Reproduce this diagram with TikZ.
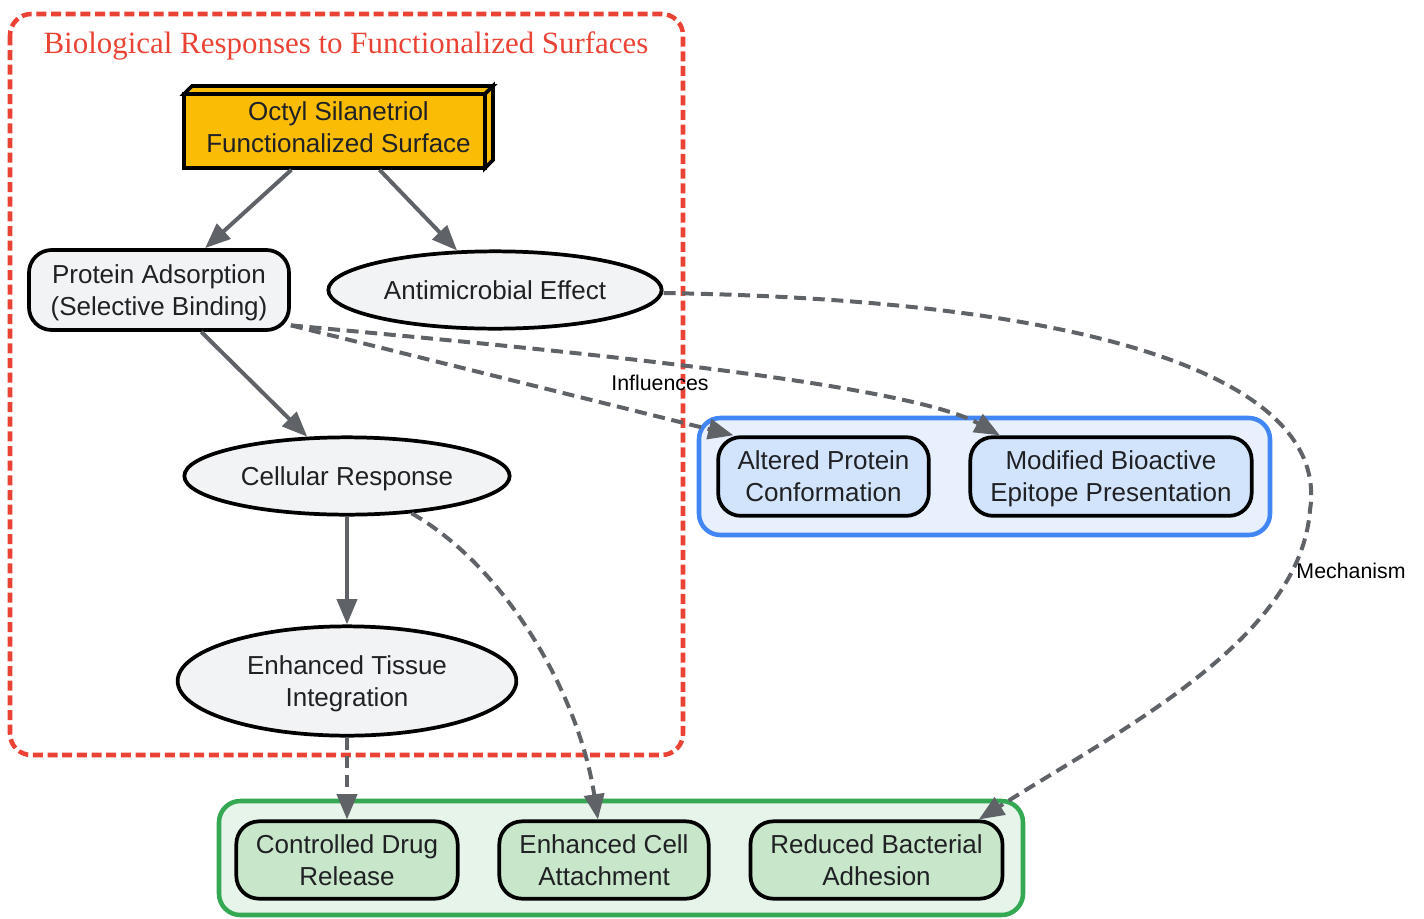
\documentclass[tikz,border=0pt]{standalone}
\usepackage{fontspec}
\setmainfont{Liberation Sans}
\newfontfamily\titlefont{Liberation Serif}
\usetikzlibrary{arrows.meta,shapes.geometric,calc}
\definecolor{cred}{HTML}{EA4335}
\definecolor{cblue}{HTML}{4285F4}
\definecolor{cgreen}{HTML}{34A853}
\definecolor{amber}{HTML}{FBBC05}
\definecolor{edgegrey}{HTML}{5F6368}
\definecolor{nodegrey}{HTML}{F1F3F4}
\definecolor{bluefill}{HTML}{E8F0FE}
\definecolor{bluenode}{HTML}{D2E3FC}
\definecolor{greenfill}{HTML}{E6F4EA}
\definecolor{greennode}{HTML}{C8E6C9}
\definecolor{txt}{HTML}{202124}
\tikzset{
 base/.style={draw=black, line width=2.8pt, text=txt, font=\fontsize{19.5}{24}\selectfont, align=center, inner sep=0pt, text depth=0pt},
 rbox/.style={base, rectangle, rounded corners=17pt},
 ell/.style={base, ellipse, fill=nodegrey},
 flow/.style={draw=edgegrey, line width=3pt, -{Triangle[length=19pt,width=15pt]}},
 dflow/.style={flow, dash pattern=on 9pt off 5pt},
 elabel/.style={font=\fontsize{16}{19}\selectfont, text=black, inner sep=1pt},
 cluster/.style={line width=3.4pt, rounded corners=16pt},
 face/.style={draw=black, line width=2.8pt, fill=amber, line join=miter},
}
\begin{document}
\begin{tikzpicture}[x=0.75pt,y=-0.75pt]
\useasboundingbox (0,0) rectangle (1424,918);
% clusters
\draw[cluster, draw=cred, dash pattern=on 7.5pt off 3.5pt] (10,14) rectangle (683,755);
\node[text=cred, font=\titlefont\fontsize{23.2}{27}\selectfont, inner sep=0pt] (title) at (346,45.5) {Biological Responses to Functionalized Surfaces};
\draw[cluster, draw=cblue, fill=bluefill] (699,418) rectangle (1270,535);
\draw[cluster, draw=cgreen, fill=greenfill] (219,801) rectangle (1023,915);
% 3D box faces of the surface node
\draw[face] (184,94) rectangle (485,168);
\draw[face] (184,94) -- (192,86) -- (493,86) -- (485,94) -- cycle;
\draw[face] (485,94) -- (493,86) -- (493,160) -- (485,168) -- cycle;
% nodes
\node[base, draw=none, rectangle, minimum width=231.75pt, minimum height=61.5pt] (octyl) at (338.5,127) {Octyl Silanetriol\\Functionalized Surface};
\node[rbox, fill=nodegrey, minimum width=195pt, minimum height=60pt] (protein) at (159,290) {Protein Adsorption\\(Selective Binding)};
\node[ell, minimum width=250pt, minimum height=58pt] (anti) at (495,290) {Antimicrobial Effect};
\node[ell, minimum width=244pt, minimum height=58pt] (cell) at (347,476) {Cellular Response};
\node[ell, minimum width=254pt, minimum height=82pt] (tissue) at (347,681) {Enhanced Tissue\\Integration};
\node[rbox, fill=bluenode, minimum width=158pt, minimum height=59pt] (altered) at (823.5,476.5) {Altered Protein\\Conformation};
\node[rbox, fill=bluenode, minimum width=211pt, minimum height=59pt] (modified) at (1111,476.5) {Modified Bioactive\\Epitope Presentation};
\node[rbox, fill=greennode, minimum width=166pt, minimum height=58pt] (drug) at (347,860) {Controlled Drug\\Release};
\node[rbox, fill=greennode, minimum width=157pt, minimum height=58pt] (attach) at (604,860) {Enhanced Cell\\Attachment};
\node[rbox, fill=greennode, minimum width=189pt, minimum height=58pt] (reduced) at (876.5,860) {Reduced Bacterial\\Adhesion};
% edges
\draw[flow] (octyl) -- (protein);
\draw[flow] (octyl) -- (anti);
\draw[flow] (protein) -- (cell);
\draw[flow] (cell) -- (tissue);
\draw[dflow] (tissue) -- (drug);
\draw[dflow] (cell) .. controls (510,570) and (580,700) .. (attach);
\draw[dflow] (protein.-15) -- ($(altered.north west)!0.08!(altered.north east)$);
\node[elabel] (linf) at (660,383) {Influences};
\draw[dflow] (protein.-15) .. controls (500,345) and (900,380) .. ($(modified.north west)!0.11!(modified.north east)$);
\draw[dflow] ($(anti.east)+(0,3)$) .. controls (1100,300) and (1330,380) .. (1310,510) .. controls (1300,640) and (1120,730) .. ($(reduced.north west)!0.9!(reduced.north east)$);
\node[elabel] (lmech) at (1351,571) {Mechanism};
\end{tikzpicture}
\end{document}
